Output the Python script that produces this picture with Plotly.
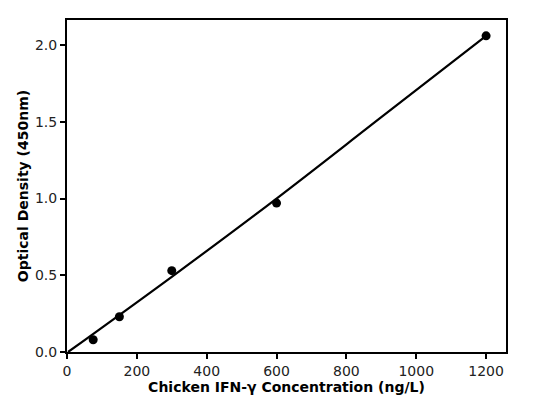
import plotly.graph_objects as go

# standard points
conc = [75, 150, 300, 600, 1200]
od = [0.08, 0.23, 0.53, 0.97, 2.06]

# fitted curve
fit_conc = [3, 300, 600, 900, 1200]
fit_od = [0.0, 0.49, 1.0, 1.53, 2.06]

fig = go.Figure()

fig.add_trace(go.Scatter(x=fit_conc, y=fit_od, mode='lines', line_shape='spline',
                         line=dict(color='black', width=2.2), hoverinfo='skip'))
fig.add_trace(go.Scatter(x=conc, y=od, mode='markers',
                         marker=dict(color='black', size=9)))

axis_style = dict(showline=True, linecolor='black', linewidth=2, mirror=True,
                  ticks='outside', ticklen=5, tickwidth=1.5, tickcolor='black',
                  showgrid=False, zeroline=False, automargin=False,
                  tickfont=dict(size=14, color='#222'))

fig.update_xaxes(range=[0, 1257], tickvals=[0, 200, 400, 600, 800, 1000, 1200],
                 title=dict(text='<b>Chicken IFN-γ Concentration (ng/L)</b>',
                            font=dict(size=14, color='black'), standoff=4),
                 **axis_style)
fig.update_yaxes(range=[0, 2.163], tickvals=[0, 0.5, 1.0, 1.5, 2.0], tickformat='.1f',
                 title=dict(text='<b>Optical Density (450nm)</b>',
                            font=dict(size=14, color='black'), standoff=3),
                 **axis_style)

# page body has an 8px margin, so the figure is a bit smaller than the window
fig.update_layout(width=525, height=392, showlegend=False,
                  margin=dict(l=59, r=27, t=12, b=48),
                  plot_bgcolor='white', paper_bgcolor='white',
                  font=dict(family='DejaVu Sans', color='black'))

fig.write_html("out.html")
